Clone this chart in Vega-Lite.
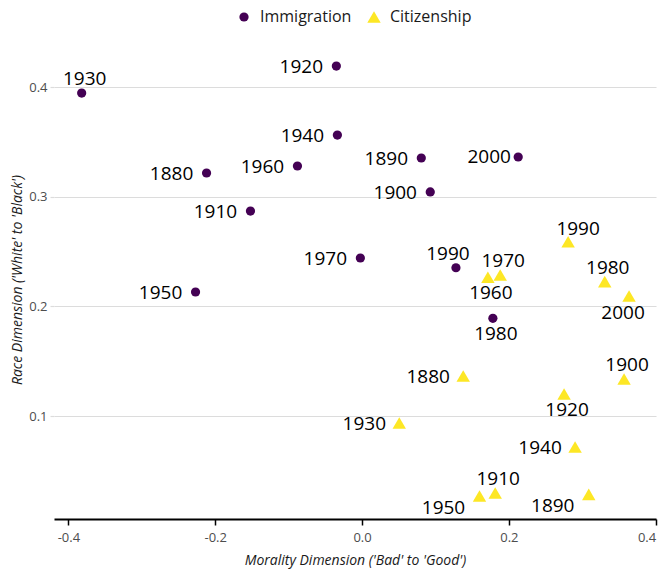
{
  "$schema": "https://vega.github.io/schema/vega-lite/v6.json",
  "autosize": "none",
  "width": 602,
  "height": 479,
  "padding": {"left": 54, "top": 40, "right": 13, "bottom": 60},
  "background": "white",
  "config": {
    "font": "Open Sans",
    "view": {"stroke": null},
    "axis": {"labelFont": "Open Sans", "titleFont": "Open Sans"}
  },
  "data": {
    "values": [
      {"series": "Immigration", "year": 1930, "morality": -0.3819, "race": 0.3945},
      {"series": "Immigration", "year": 1920, "morality": -0.0350, "race": 0.4191},
      {"series": "Immigration", "year": 1940, "morality": -0.0336, "race": 0.3562},
      {"series": "Immigration", "year": 1890, "morality": 0.0807, "race": 0.3353},
      {"series": "Immigration", "year": 2000, "morality": 0.2127, "race": 0.3362},
      {"series": "Immigration", "year": 1880, "morality": -0.2118, "race": 0.3216},
      {"series": "Immigration", "year": 1960, "morality": -0.0880, "race": 0.3280},
      {"series": "Immigration", "year": 1900, "morality": 0.0929, "race": 0.3043},
      {"series": "Immigration", "year": 1910, "morality": -0.1520, "race": 0.2869},
      {"series": "Immigration", "year": 1970, "morality": -0.0023, "race": 0.2441},
      {"series": "Immigration", "year": 1990, "morality": 0.1279, "race": 0.2352},
      {"series": "Immigration", "year": 1950, "morality": -0.2268, "race": 0.2131},
      {"series": "Immigration", "year": 1980, "morality": 0.1782, "race": 0.1891},
      {"series": "Citizenship", "year": 1990, "morality": 0.2807, "race": 0.2589},
      {"series": "Citizenship", "year": 1970, "morality": 0.1882, "race": 0.2286},
      {"series": "Citizenship", "year": 1960, "morality": 0.1714, "race": 0.2265},
      {"series": "Citizenship", "year": 1980, "morality": 0.3306, "race": 0.2225},
      {"series": "Citizenship", "year": 2000, "morality": 0.3637, "race": 0.2094},
      {"series": "Citizenship", "year": 1880, "morality": 0.1378, "race": 0.1365},
      {"series": "Citizenship", "year": 1900, "morality": 0.3569, "race": 0.1337},
      {"series": "Citizenship", "year": 1920, "morality": 0.2752, "race": 0.1201},
      {"series": "Citizenship", "year": 1930, "morality": 0.0507, "race": 0.0936},
      {"series": "Citizenship", "year": 1940, "morality": 0.2902, "race": 0.0717},
      {"series": "Citizenship", "year": 1910, "morality": 0.1814, "race": 0.0298},
      {"series": "Citizenship", "year": 1950, "morality": 0.1600, "race": 0.0271},
      {"series": "Citizenship", "year": 1890, "morality": 0.3088, "race": 0.0285}
    ]
  },
  "encoding": {
    "x": {
      "field": "morality", "type": "quantitative",
      "scale": {"domain": [-0.4196, 0.4004], "nice": false, "zero": false},
      "axis": {
        "title": "Morality Dimension ('Bad' to 'Good')",
        "values": [-0.4, -0.2, 0, 0.2, 0.4],
        "format": ".1f",
        "labelExpr": "replace(datum.label, '\u2212', '-')",
        "grid": false,
        "domainColor": "#000000", "domainWidth": 1.8,
        "tickColor": "#000000", "tickWidth": 1.5, "tickSize": 6,
        "labelColor": "#4d4d4d", "labelFontSize": 13, "labelPadding": 6,
        "titleFontStyle": "italic", "titleFontWeight": "normal", "titleFontSize": 14,
        "titleColor": "#1a1a1a", "titlePadding": 9
      }
    },
    "y": {
      "field": "race", "type": "quantitative",
      "scale": {"domain": [0.00608, 0.4429], "nice": false, "zero": false},
      "axis": {
        "title": "Race Dimension ('White' to 'Black')",
        "values": [0.1, 0.2, 0.3, 0.4],
        "format": ".1f",
        "grid": true, "gridColor": "#dcdcdc", "gridWidth": 1.2,
        "domain": false,
        "tickColor": "#dcdcdc", "tickSize": 4, "tickWidth": 1.2,
        "labelColor": "#4d4d4d", "labelFontSize": 13, "labelPadding": 3,
        "titleFontStyle": "italic", "titleFontWeight": "normal", "titleFontSize": 14,
        "titleColor": "#1a1a1a", "titlePadding": 4
      }
    }
  },
  "layer": [
    {
      "mark": {"type": "point", "filled": true, "opacity": 1},
      "encoding": {
        "color": {
          "field": "series", "type": "nominal",
          "scale": {"domain": ["Immigration", "Citizenship"], "range": ["#440154", "#FDE725"]},
          "legend": {
            "title": null, "orient": "none", "direction": "horizontal",
            "legendX": 182, "legendY": -31,
            "labelFontSize": 16, "labelColor": "#1a1a1a", "labelFont": "Open Sans",
            "symbolSize": 130, "columnPadding": 14, "labelOffset": 8
          }
        },
        "shape": {
          "field": "series", "type": "nominal",
          "scale": {"domain": ["Immigration", "Citizenship"], "range": ["circle", "triangle-up"]}
        },
        "size": {
          "field": "series", "type": "nominal",
          "scale": {"type": "ordinal", "domain": ["Immigration", "Citizenship"], "range": [85, 180]}
        }
      }
    },
    {
      "transform": [{"filter": "(datum.series == 'Immigration' && indexof([1920,1940,1890,1880,1960,1900,1910,1970,1950], datum.year) >= 0) || (datum.series == 'Citizenship' && indexof([1880,1930,1940], datum.year) >= 0)"}],
      "mark": {"type": "text", "fontSize": 19, "color": "#000000", "align": "center", "baseline": "middle", "dx": -35, "dy": 1},
      "encoding": {"text": {"field": "year", "type": "nominal"}}
    },
    {
      "transform": [{"filter": "datum.series == 'Immigration' && datum.year == 2000"}],
      "mark": {"type": "text", "fontSize": 19, "color": "#000000", "align": "center", "baseline": "middle", "dx": -29, "dy": 0},
      "encoding": {"text": {"field": "year", "type": "nominal"}}
    },
    {
      "transform": [{"filter": "(datum.series == 'Immigration' && datum.year == 1930) || (datum.series == 'Citizenship' && indexof([1970,1980,1900,1910], datum.year) >= 0)"}],
      "mark": {"type": "text", "fontSize": 19, "color": "#000000", "align": "center", "baseline": "middle", "dx": 3, "dy": -14},
      "encoding": {"text": {"field": "year", "type": "nominal"}}
    },
    {
      "transform": [{"filter": "datum.series == 'Citizenship' && datum.year == 1990"}],
      "mark": {"type": "text", "fontSize": 19, "color": "#000000", "align": "center", "baseline": "middle", "dx": 10, "dy": -13},
      "encoding": {"text": {"field": "year", "type": "nominal"}}
    },
    {
      "transform": [{"filter": "datum.series == 'Immigration' && datum.year == 1990"}],
      "mark": {"type": "text", "fontSize": 19, "color": "#000000", "align": "center", "baseline": "middle", "dx": -8, "dy": -14},
      "encoding": {"text": {"field": "year", "type": "nominal"}}
    },
    {
      "transform": [{"filter": "(datum.series == 'Immigration' && datum.year == 1980) || (datum.series == 'Citizenship' && indexof([1960,1920], datum.year) >= 0)"}],
      "mark": {"type": "text", "fontSize": 19, "color": "#000000", "align": "center", "baseline": "middle", "dx": 3, "dy": 16},
      "encoding": {"text": {"field": "year", "type": "nominal"}}
    },
    {
      "transform": [{"filter": "datum.series == 'Citizenship' && datum.year == 2000"}],
      "mark": {"type": "text", "fontSize": 19, "color": "#000000", "align": "center", "baseline": "middle", "dx": -6, "dy": 17},
      "encoding": {"text": {"field": "year", "type": "nominal"}}
    },
    {
      "transform": [{"filter": "datum.series == 'Citizenship' && indexof([1950,1890], datum.year) >= 0"}],
      "mark": {"type": "text", "fontSize": 19, "color": "#000000", "align": "center", "baseline": "middle", "dx": -36, "dy": 12},
      "encoding": {"text": {"field": "year", "type": "nominal"}}
    }
  ]
}
